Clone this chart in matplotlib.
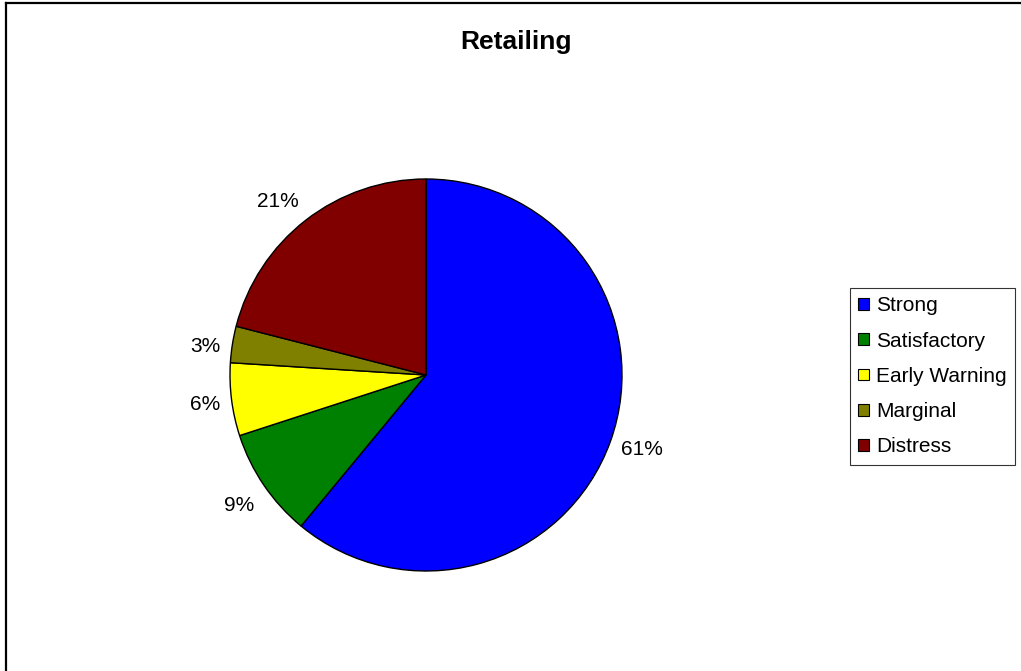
import numpy as np
import matplotlib.pyplot as plt
from matplotlib.patches import Patch
from matplotlib.lines import Line2D

plt.rcParams['font.family'] = ['Liberation Sans', 'DejaVu Sans']

categories = ['Strong', 'Satisfactory', 'Early Warning', 'Marginal', 'Distress']
shares = [61, 9, 6, 3, 21]
colors = ['#0000FF', '#008000', '#FFFF00', '#808000', '#800000']

W, H = 1021, 671
fig = plt.figure(figsize=(W / 100, H / 100), dpi=100)

# pie axes: square box, centre (426, 375), radius 196 px
cx, cy, r = 426, 375, 196
ax = fig.add_axes([(cx - r) / W, (H - cy - r) / H, 2 * r / W, 2 * r / H])
wedges, _ = ax.pie(
    shares, colors=colors, startangle=90, counterclock=False, radius=1,
    wedgeprops=dict(edgecolor='black', linewidth=1.0))

# percentage labels just outside each wedge, aligned away from the pie
for w, v in zip(wedges, shares):
    th = np.deg2rad((w.theta1 + w.theta2) / 2)
    s = np.sin(th)
    va = 'bottom' if s > 0.5 else ('top' if s < -0.5 else 'center')
    x = 1.06 * np.cos(th)
    y = 1.06 * s - (0 if va == 'bottom' else 0.02)
    ha = 'left' if np.cos(th) > 0 else 'right'
    ax.text(x, y, f'{v}%', ha=ha, va=va, fontsize=15)

ax.set_xlim(-1, 1)
ax.set_ylim(-1, 1)
ax.set_aspect('equal')
ax.axis('off')

fig.text(516 / W, 1 - 42 / H, 'Retailing', ha='center', va='center',
         fontsize=19, fontweight='bold')

handles = [Patch(facecolor=c, edgecolor='black', linewidth=0.8) for c in colors]
leg = fig.legend(handles, categories, loc='upper left',
                 bbox_to_anchor=(850 / W, 1 - 288 / H), borderaxespad=0,
                 fontsize=15, frameon=True, fancybox=False,
                 handlelength=0.5, handleheight=0.5, handletextpad=0.35,
                 labelspacing=0.78, borderpad=0.4)
leg.get_frame().set_edgecolor('black')
leg.get_frame().set_linewidth(0.8)

# chart area border (left and top edges)
fig.add_artist(Line2D([6 / W, 6 / W], [0, 1 - 3 / H], color='black', linewidth=1.6))
fig.add_artist(Line2D([6 / W, 1], [1 - 3 / H, 1 - 3 / H], color='black', linewidth=1.6))

fig.savefig('out.png', dpi=100, facecolor='white')
